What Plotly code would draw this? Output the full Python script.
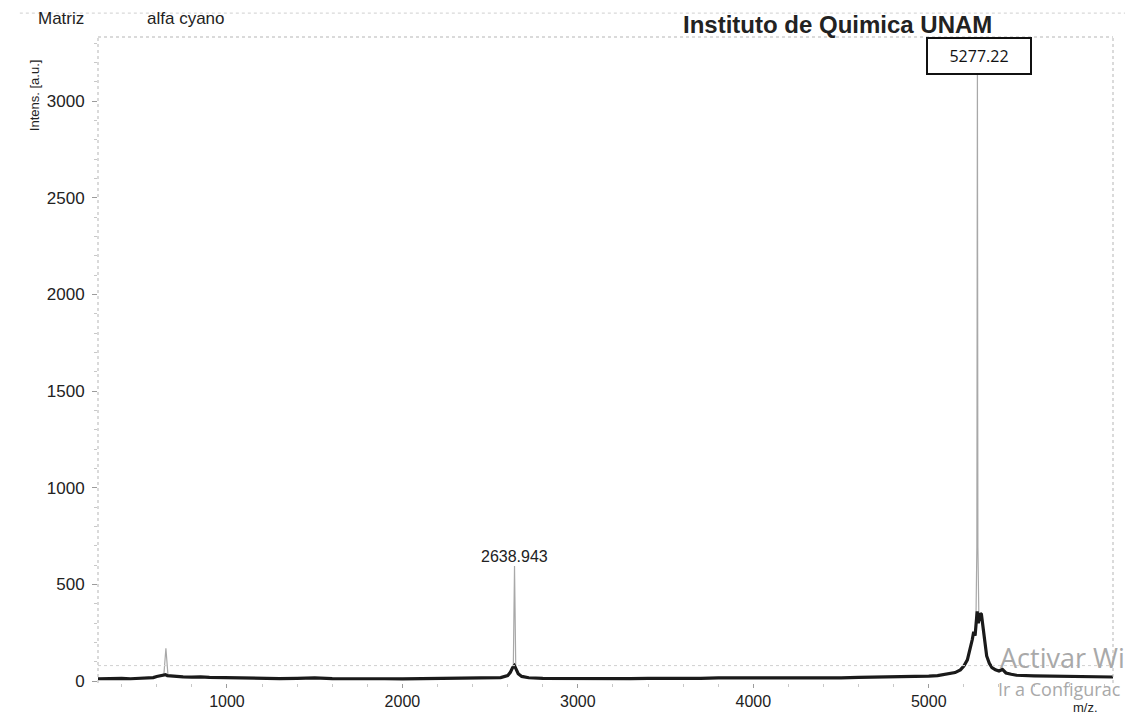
import plotly.graph_objects as go

# ---- data ----
mz_base = [265, 300, 350, 400, 450, 500, 550, 580, 600, 620, 640, 650, 660, 680, 700, 750, 800, 850, 900,
           950, 1000, 1100, 1200, 1300, 1400, 1500, 1600, 1700, 1800, 1900, 2000, 2100, 2200, 2300, 2400,
           2500, 2560, 2600, 2615, 2628, 2638, 2648, 2660, 2680, 2720, 2800, 2900, 3000, 3100, 3200, 3300,
           3400, 3500, 3600, 3700, 3800, 3900, 4000, 4100, 4200, 4300, 4400, 4500, 4600, 4700, 4800, 4900,
           5000, 5050, 5100, 5150, 5180, 5200, 5220, 5235, 5248, 5256, 5264, 5270, 5276, 5282, 5288, 5294,
           5300, 5308, 5318, 5330, 5345, 5360, 5380, 5400, 5420, 5440, 5470, 5500, 5600, 5700, 5800, 5900,
           6000, 6050]
int_base = [12, 13, 12, 14, 12, 13, 14, 18, 24, 27, 30, 33, 28, 26, 24, 22, 20, 22, 19,
            18, 16, 15, 14, 13, 14, 16, 13, 14, 12, 12, 11, 12, 11, 12, 13,
            14, 18, 28, 45, 70, 80, 62, 38, 24, 17, 14, 13, 12, 13, 12, 13,
            14, 13, 15, 14, 16, 15, 17, 16, 17, 16, 18, 17, 19, 20, 21, 24,
            26, 28, 34, 44, 58, 78, 110, 160, 215, 255, 235, 300, 360, 300, 320, 350,
            345, 290, 200, 130, 92, 70, 58, 52, 60, 42, 35, 30, 27, 26, 24, 23,
            22, 21]

spike_mz = [[640, 652, 664], [2632, 2638.943, 2646], [5268, 5274, 5277.22, 5280, 5286]]
spike_int = [[28, 170, 28], [70, 595, 70], [250, 690, 3200, 690, 300]]

peak_labels = ["2638.943", "5277.22"]
peak_label_mz = [2638.943, 5285]
peak_label_int = [600, 3233]

x_ticks = [1000, 2000, 3000, 4000, 5000]
y_ticks = [0, 500, 1000, 1500, 2000, 2500, 3000]

FONT = "Liberation Sans, Arial, sans-serif"
WM_FONT = "Open Sans, sans-serif"

fig = go.Figure()
for mz, it in zip(spike_mz, spike_int):
    fig.add_trace(go.Scatter(x=mz, y=it, mode="lines",
                             line=dict(color="#a8a8a8", width=1.2), hoverinfo="skip"))
fig.add_trace(go.Scatter(x=mz_base, y=int_base, mode="lines",
                         line=dict(color="#1a1a1a", width=3.2), hoverinfo="skip"))

gray = "#9c9c9c"
fig.update_layout(
    width=1125, height=715,
    margin=dict(l=98, r=12, t=37, b=32, autoexpand=False),
    paper_bgcolor="white", plot_bgcolor="white",
    showlegend=False,
    font=dict(family=FONT, color="#222", size=14),
    xaxis=dict(range=[265, 6050], tickvals=x_ticks, ticktext=[str(v) for v in x_ticks],
               showgrid=False, zeroline=False, showline=False, automargin=False,
               ticks="outside", ticklen=4, tickcolor=gray, tickwidth=1,
               minor=dict(dtick=200, ticks="outside", ticklen=3, tickcolor="#c8c8c8"),
               tickfont=dict(size=16, family=FONT, color="#222")),
    yaxis=dict(range=[-10, 3332], tickvals=y_ticks, ticktext=[str(v) for v in y_ticks],
               showgrid=False, zeroline=False, showline=False, automargin=False,
               ticks="outside", ticklen=5, tickcolor=gray, tickwidth=1, ticklabelstandoff=4,
               minor=dict(dtick=100, ticks="outside", ticklen=3, tickcolor="#c8c8c8"),
               tickfont=dict(size=17, family=FONT, color="#222")),
)

# dotted frame and threshold line
dot = dict(color="#b5b5b5", width=1, dash="dot")
fig.add_shape(type="line", xref="paper", yref="paper", x0=0, x1=0, y0=0, y1=1, line=dot)
fig.add_shape(type="line", xref="paper", yref="paper", x0=0, x1=1, y0=1, y1=1, line=dot)
fig.add_shape(type="line", xref="paper", yref="paper", x0=1, x1=1, y0=0, y1=1, line=dot)
fig.add_shape(type="line", xref="paper", yref="y", x0=0, x1=1, y0=80, y1=80,
              line=dict(color="#d0d0d0", width=1, dash="dot"))
fig.add_shape(type="line", xref="paper", yref="paper", x0=-0.077, x1=1.02, y0=1.037, y1=1.037,
              line=dict(color="#cfcfcf", width=1, dash="dot"))

# peak labels
fig.add_annotation(x=peak_label_mz[0], y=peak_label_int[0], text=peak_labels[0], showarrow=False,
                   yanchor="bottom", yshift=-2, font=dict(size=16, family=FONT, color="#222"))
fig.add_annotation(x=peak_label_mz[1], y=peak_label_int[1], text=peak_labels[1], showarrow=False,
                   width=100, height=32, borderpad=1, borderwidth=2, bordercolor="#111",
                   bgcolor="white", font=dict(size=16, family=WM_FONT, color="#111"))

# header texts
fig.add_annotation(xref="paper", yref="paper", x=-0.061, y=1.0294, text="Matriz", showarrow=False,
                   xanchor="left", yanchor="middle", font=dict(size=17, family=FONT, color="#222"))
fig.add_annotation(xref="paper", yref="paper", x=0.046, y=1.0294, text="alfa cyano", showarrow=False,
                   xanchor="left", yanchor="middle", font=dict(size=17, family=FONT, color="#222"))
fig.add_annotation(xref="paper", yref="paper", x=0.574, y=1.0186, text="<b>Instituto de Quimica UNAM</b>",
                   showarrow=False, xanchor="left", yanchor="middle",
                   font=dict(size=24, family=FONT, color="#222"))

# axis titles
fig.add_annotation(xref="paper", yref="paper", x=-0.063, y=0.91, text="Intens. [a.u.]", showarrow=False,
                   textangle=-90, xanchor="center", yanchor="middle",
                   font=dict(size=13, family=FONT, color="#222"))
fig.add_annotation(xref="paper", yref="paper", x=0.987, y=-0.038, text="m/z.", showarrow=False,
                   xanchor="right", yanchor="middle", font=dict(size=13, family=FONT, color="#222"))

# watermark (visible part only)
fig.add_annotation(xref="paper", yref="paper", x=0.887, y=0.0387, text="Activar Wi", showarrow=False,
                   xanchor="left", yanchor="middle",
                   font=dict(size=27, family=WM_FONT, color="#a9a9a9"))
fig.add_annotation(xref="paper", yref="paper", x=0.885, y=-0.009, text="Ir a Configurac", showarrow=False,
                   xanchor="left", yanchor="middle",
                   font=dict(size=18, family=WM_FONT, color="#a9a9a9"))

fig.write_html("out.html")
